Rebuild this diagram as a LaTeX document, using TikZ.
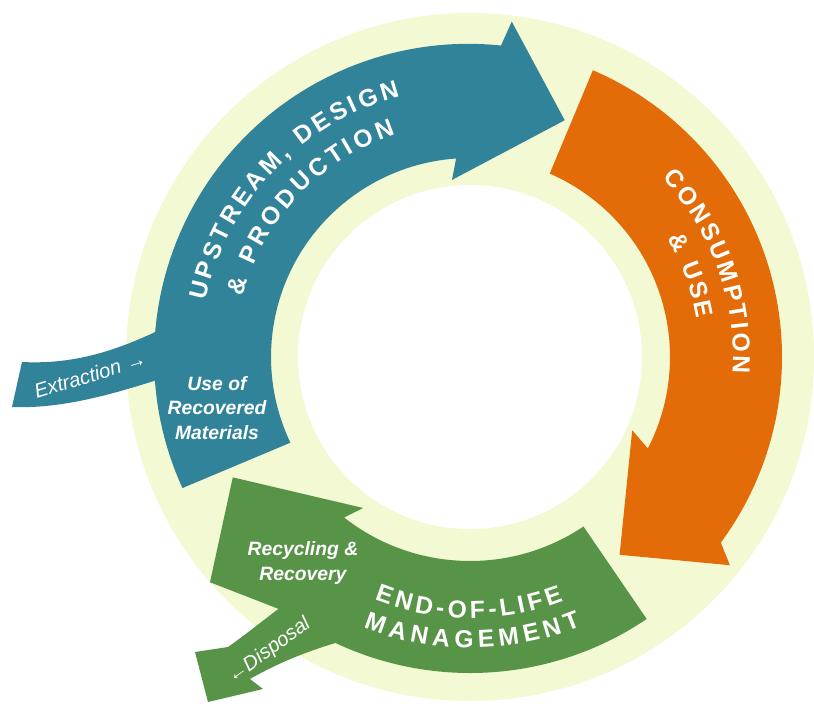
\documentclass[tikz,border=0pt]{standalone}
\usepackage{fontspec}
\setmainfont{Liberation Sans}
\usetikzlibrary{decorations.text}

\definecolor{ringpale}{RGB}{243,249,211}
\definecolor{upblue}{RGB}{49,131,153}
\definecolor{useorange}{RGB}{227,108,9}
\definecolor{eolgreen}{RGB}{88,148,72}
\newcommand{\titlefont}{\fontsize{14}{14}\selectfont\bfseries\color{white}}

\begin{document}
\begin{tikzpicture}[
    x=0.02cm, y=0.02cm,
    labeltext/.style={text=white, align=center, inner sep=0pt, font=\fontsize{11}{14}\selectfont\bfseries\itshape},
    sidetext/.style={text=white, inner sep=0pt, font=\fontsize{11.5}{12}\selectfont\itshape},
    arctext/.style={decorate, decoration={text along path, text align=fit to path, text={#1}}}
]
    \useasboundingbox (-470,-350) rectangle (344,357);

    % --------------------------------------------------------
    % 1. BACKGROUND RING
    % --------------------------------------------------------
    \fill[ringpale] (0,0) circle[radius=344];
    \fill[white] (0,0) circle[radius=172];

    % --------------------------------------------------------
    % 2. THE THREE ARROWS
    % --------------------------------------------------------

    % Upstream arrow with the extraction inflow
    \fill[upblue] (204.5:316) arc[start angle=204.5, end angle=84, radius=314]
        -- (82.9:338) -- (68.2:255) -- (95.8:178) -- (94:199)
        arc[start angle=94, end angle=205.5, radius=199] -- cycle;
    \fill[upblue] (-448,-5) .. controls (-390,-8) and (-345,10) .. (-300,32)
        -- (-280,32) -- (-280,-25) -- (-313,-23)
        .. controls (-360,-38) and (-410,-52) .. (-458,-50) -- cycle;

    % Consumption arrow
    \fill[useorange] (66.8:312) arc[start angle=66.8, end angle=-36.5, radius=312]
        -- (-38.7:333) -- (-52.9:248) -- (-24.3:178) -- (-27.2:200)
        arc[start angle=-27.2, end angle=66.5, radius=200] -- cycle;

    % End-of-life arrow with the disposal outflow
    \fill[eolgreen] (-56:316) arc[start angle=-56, end angle=-127, radius=316]
        -- (-139.1:344) -- (-153.1:266) -- (-125.3:185) -- (-128.1:204)
        arc[start angle=-128.1, end angle=-56.2, radius=204] -- cycle;
    \fill[eolgreen] (-180,-243) .. controls (-205,-262) and (-225,-278) .. (-242,-290)
        -- (-275,-295) -- (-262,-345) -- (-207,-332) -- (-220,-322)
        .. controls (-185,-302) and (-155,-292) .. (-125,-283) -- cycle;

    % --------------------------------------------------------
    % 3. CURVED TITLES
    % --------------------------------------------------------
    \path[arctext={|\titlefont|UPSTREAM, DESIGN}]
        (168:270) arc[start angle=168, end angle=105, radius=270];
    \path[arctext={|\titlefont|{\&} PRODUCTION}]
        (165:235) arc[start angle=165, end angle=108.5, radius=235];

    \path[arctext={|\titlefont|CONSUMPTION}]
        (43:263) arc[start angle=43, end angle=-3.5, radius=263];
    \path[arctext={|\titlefont|{\&} USE}]
        (31:230) arc[start angle=31, end angle=9.5, radius=230];

    \path[arctext={|\titlefont|END-OF-LIFE}]
        (-111.5:261) arc[start angle=-111.5, end angle=-69, radius=261];
    \path[arctext={|\titlefont|MANAGEMENT}]
        (-111.5:291) arc[start angle=-111.5, end angle=-67.5, radius=291];

    % --------------------------------------------------------
    % 4. FLOW LABELS
    % --------------------------------------------------------
    \node (recovered) [labeltext] at (-253,-51) {Use of\\Recovered\\Materials};
    \node (recycling) [labeltext] at (-167,-206) {Recycling \&\\Recovery};
    \node (extraction) [sidetext, rotate=17] at (-380,-18) {Extraction →};
    \node (disposal) [sidetext, rotate=36] at (-201,-294) {←Disposal};

\end{tikzpicture}
\end{document}
